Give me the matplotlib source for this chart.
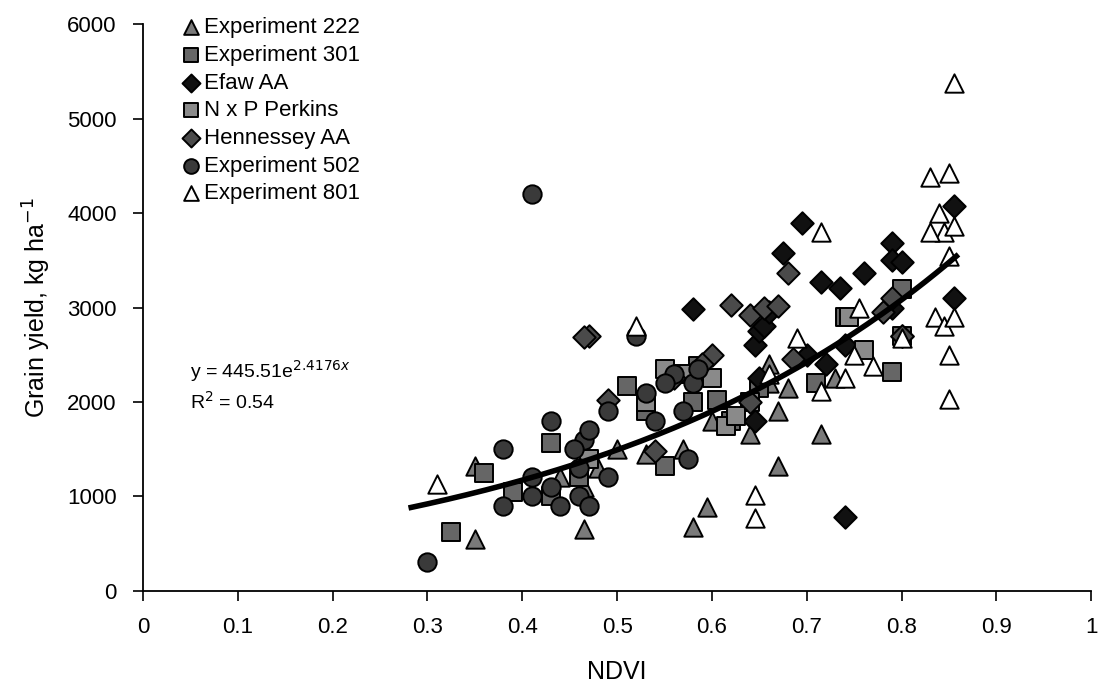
import numpy as np
import matplotlib
matplotlib.use("Agg")
import matplotlib.pyplot as plt

plt.rcParams['font.family'] = ['Liberation Sans', 'DejaVu Sans']

# ---- data ----
exp222_x = [0.35, 0.35, 0.465, 0.58, 0.595, 0.67, 0.715, 0.67, 0.64, 0.44, 0.48, 0.465, 0.50, 0.57, 0.53, 0.60, 0.73, 0.68, 0.66, 0.66]
exp222_y = [1320, 550, 650, 670, 890, 1320, 1660, 1900, 1660, 1200, 1300, 1100, 1500, 1500, 1450, 1800, 2250, 2150, 2400, 2200]

exp301_x = [0.325, 0.36, 0.43, 0.43, 0.39, 0.46, 0.55, 0.53, 0.51, 0.58, 0.585, 0.605, 0.62, 0.65, 0.71, 0.74, 0.79, 0.80, 0.80]
exp301_y = [620, 1250, 1560, 1000, 1050, 1200, 1320, 1900, 2170, 2000, 2380, 2020, 1800, 2150, 2200, 2900, 2320, 3200, 2700]

efaw_x = [0.58, 0.695, 0.675, 0.715, 0.735, 0.76, 0.79, 0.79, 0.80, 0.855, 0.855, 0.74, 0.645, 0.65, 0.655, 0.65, 0.645, 0.70, 0.72, 0.74, 0.79, 0.80, 0.66]
efaw_y = [2980, 3900, 3580, 3270, 3210, 3370, 3680, 3500, 3480, 4080, 3100, 780, 2600, 2750, 2800, 2250, 1800, 2500, 2400, 2600, 3000, 2700, 2950]

perkins_x = [0.60, 0.55, 0.57, 0.64, 0.615, 0.625, 0.76, 0.745, 0.53, 0.47]
perkins_y = [2250, 2350, 2300, 2000, 1750, 1850, 2550, 2900, 2000, 1400]

henn_x = [0.47, 0.465, 0.62, 0.64, 0.655, 0.68, 0.67, 0.60, 0.59, 0.56, 0.49, 0.54, 0.64, 0.685, 0.78, 0.79, 0.80]
henn_y = [2700, 2690, 3030, 2920, 3000, 3370, 3020, 2500, 2400, 2250, 2020, 1480, 2000, 2450, 2950, 3100, 2700]

exp502_x = [0.30, 0.38, 0.41, 0.43, 0.38, 0.41, 0.41, 0.44, 0.46, 0.46, 0.465, 0.47, 0.47, 0.455, 0.49, 0.49, 0.52, 0.53, 0.54, 0.56, 0.57, 0.575, 0.58, 0.585, 0.55, 0.43]
exp502_y = [300, 1500, 4200, 1800, 900, 1000, 1200, 900, 1000, 1300, 1600, 1700, 900, 1500, 1200, 1900, 2700, 2100, 1800, 2300, 1900, 1400, 2200, 2350, 2200, 1100]

exp801_x = [0.31, 0.52, 0.645, 0.645, 0.715, 0.715, 0.74, 0.755, 0.75, 0.77, 0.69, 0.66, 0.80, 0.83, 0.85, 0.855, 0.84, 0.845, 0.85, 0.855, 0.835, 0.845, 0.855, 0.85, 0.85, 0.83]
exp801_y = [1130, 2800, 1010, 770, 3800, 2120, 2250, 3000, 2500, 2380, 2680, 2300, 2680, 4380, 4430, 5380, 4000, 3800, 3550, 3860, 2900, 2800, 2900, 2500, 2030, 3800]

fit_a = 445.51
fit_b = 2.4176
fit_x_range = [0.28, 0.86]

x_ticks = [0, 0.1, 0.2, 0.3, 0.4, 0.5, 0.6, 0.7, 0.8, 0.9, 1]
x_tick_labels = ['0', '0.1', '0.2', '0.3', '0.4', '0.5', '0.6', '0.7', '0.8', '0.9', '1']
y_ticks = [0, 1000, 2000, 3000, 4000, 5000, 6000]

# ---- figure ----
fig = plt.figure(figsize=(11, 6.95), dpi=100)
ax = fig.add_axes([0.13, 0.15, 0.862, 0.815])

S = 175
series = [
    ("Experiment 222", exp222_x, exp222_y, '^', '#7a7a7a'),
    ("Experiment 301", exp301_x, exp301_y, 's', '#666666'),
    ("Efaw AA", efaw_x, efaw_y, 'D', '#111111'),
    ("N x P Perkins", perkins_x, perkins_y, 's', '#8a8a8a'),
    ("Hennessey AA", henn_x, henn_y, 'D', '#4a4a4a'),
    ("Experiment 502", exp502_x, exp502_y, 'o', '#3a3a3a'),
    ("Experiment 801", exp801_x, exp801_y, '^', 'white'),
]
handles = []
for name, xs, ys, m, c in series:
    sz = S * 0.75 if m == 'D' else S
    h = ax.scatter(xs, ys, marker=m, color=c, label=name,
                   s=sz, edgecolors='black', linewidths=1.4, zorder=3)
    handles.append(h)

xf = np.linspace(fit_x_range[0], fit_x_range[1], 200)
ax.plot(xf, fit_a * np.exp(fit_b * xf), color='black', lw=4, zorder=4,
        solid_capstyle='butt')

ax.text(0.05, 2330, "y = 445.51e$^{2.4176x}$", fontsize=14, va='center', ha='left')
ax.text(0.05, 2000, "R$^2$ = 0.54", fontsize=14, va='center', ha='left')

ax.set_xlim(0, 1)
ax.set_ylim(0, 6000)
ax.set_xticks(x_ticks)
ax.set_xticklabels(x_tick_labels)
ax.set_yticks(y_ticks)
ax.tick_params(axis='both', labelsize=16, direction='out', length=7, width=1.2, pad=12)
ax.spines['top'].set_visible(False)
ax.spines['right'].set_visible(False)
for sp in ('left', 'bottom'):
    ax.spines[sp].set_linewidth(1.3)

ax.set_xlabel("NDVI", fontsize=18, labelpad=16)
ax.set_ylabel("Grain yield, kg ha$^{-1}$", fontsize=18, labelpad=10)

ax.legend(handles=handles, loc='upper left', bbox_to_anchor=(0.02, 1.04),
          frameon=False, fontsize=16, handletextpad=0.0, labelspacing=0.3,
          borderpad=0.2, handlelength=1.2, markerscale=0.8)

fig.savefig("out.png", dpi=100)
